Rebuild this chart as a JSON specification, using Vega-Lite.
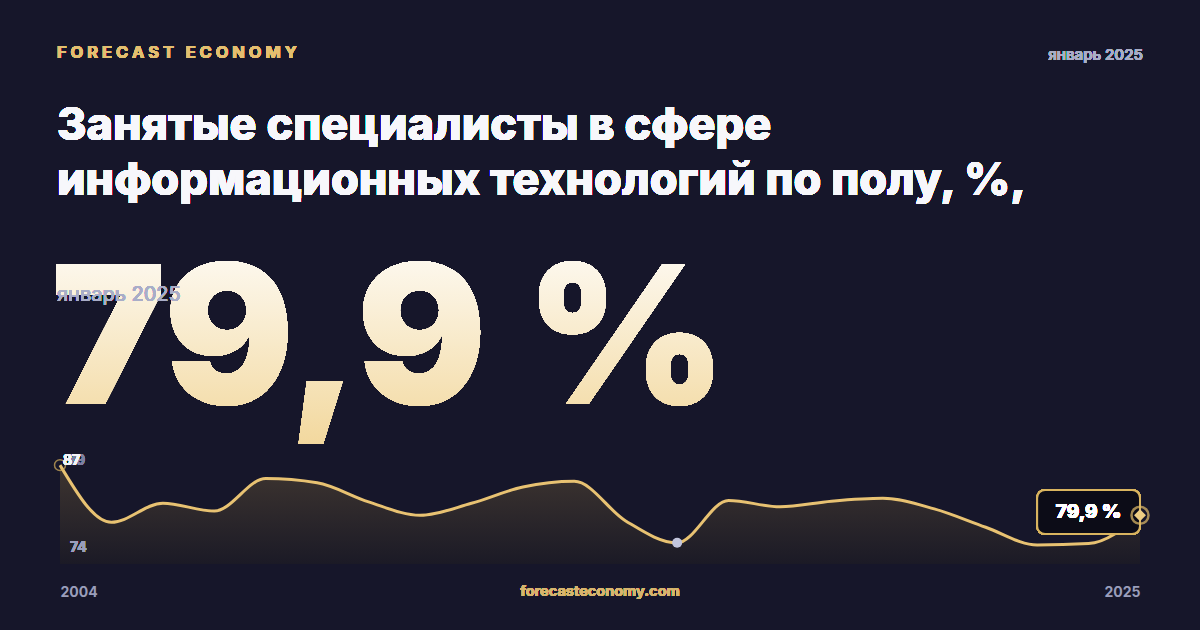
{
  "$schema": "https://vega.github.io/schema/vega-lite/v6.json",
  "width": 1080,
  "height": 113,
  "autosize": {"type": "none"},
  "padding": {"left": 60, "top": 451, "right": 60, "bottom": 66},
  "background": "#16162a",
  "config": {"view": {"stroke": null}, "font": "Inter", "text": {"font": "Inter"}},
  "data": {
    "values": [
      {"year": 2004, "value": 87.0},
      {"year": 2005, "value": 78.9},
      {"year": 2006, "value": 81.6},
      {"year": 2007, "value": 80.5},
      {"year": 2008, "value": 85.1},
      {"year": 2009, "value": 84.5},
      {"year": 2010, "value": 81.8},
      {"year": 2011, "value": 79.9},
      {"year": 2012, "value": 81.6},
      {"year": 2013, "value": 83.9},
      {"year": 2014, "value": 84.7},
      {"year": 2015, "value": 79.1},
      {"year": 2016, "value": 76.0},
      {"year": 2017, "value": 82.0},
      {"year": 2018, "value": 81.1},
      {"year": 2019, "value": 81.9},
      {"year": 2020, "value": 82.3},
      {"year": 2021, "value": 80.8},
      {"year": 2022, "value": 78.2},
      {"year": 2023, "value": 75.7},
      {"year": 2024, "value": 75.9},
      {"year": 2025, "value": 79.9}
    ]
  },
  "encoding": {
    "x": {
      "field": "year",
      "type": "quantitative",
      "scale": {"domain": [2004, 2025], "nice": false, "zero": false},
      "axis": {
        "values": [2004, 2025],
        "format": "d",
        "labelFlush": true,
        "domain": false,
        "ticks": false,
        "grid": false,
        "labelPadding": 21,
        "labelFontSize": 14,
        "labelFontWeight": 700,
        "labelColor": "#9a9ebb",
        "labelFont": "Inter",
        "title": null
      }
    },
    "y": {
      "field": "value",
      "type": "quantitative",
      "scale": {"domain": [73, 89], "nice": false, "zero": false},
      "axis": null
    }
  },
  "layer": [
    {
      "mark": {
        "type": "area",
        "interpolate": "monotone",
        "color": {
          "gradient": "linear",
          "x1": 0, "y1": 0, "x2": 0, "y2": 1,
          "stops": [
            {"offset": 0, "color": "#3e3530"},
            {"offset": 1, "color": "#1b1a26"}
          ]
        }
      },
      "encoding": {"y2": {"datum": 73}}
    },
    {
      "mark": {"type": "line", "interpolate": "monotone", "color": "#e8c272", "strokeWidth": 3}
    },
    {
      "transform": [{"filter": "datum.year == 2004"}],
      "mark": {"type": "point", "shape": "circle", "size": 120, "filled": false, "stroke": "#d9b35e", "strokeWidth": 1.5}
    },
    {
      "transform": [{"filter": "datum.year == 2016"}],
      "mark": {"type": "point", "shape": "circle", "size": 100, "filled": true, "color": "#c2c5dd", "opacity": 1}
    },
    {
      "mark": {"type": "rect", "cornerRadius": 8, "fill": "#0c0c17", "stroke": "#d9b45f", "strokeWidth": 2, "clip": false},
      "encoding": {
        "x": {"datum": 2023.0},
        "x2": {"datum": 2025.0},
        "y": {"datum": 83.48},
        "y2": {"datum": 77.24}
      }
    },
    {
      "mark": {"type": "text", "text": "79,9 %", "fontSize": 19, "fontWeight": 800, "color": "#ffffff", "align": "center", "baseline": "middle", "clip": false},
      "encoding": {"x": {"datum": 2024.0}, "y": {"datum": 80.36}}
    },
    {
      "transform": [{"filter": "datum.year == 2025"}],
      "mark": {"type": "point", "shape": "circle", "size": 290, "filled": false, "stroke": "#e2bd6a", "strokeWidth": 2.5, "clip": false}
    },
    {
      "transform": [{"filter": "datum.year == 2025"}],
      "mark": {"type": "point", "shape": "diamond", "size": 140, "filled": true, "color": "#edcd84", "opacity": 1, "clip": false}
    },
    {
      "mark": {"type": "text", "text": "79", "fontSize": 14, "fontWeight": 700, "color": "#7d80a0", "align": "left", "baseline": "middle", "dx": 8, "clip": false},
      "encoding": {"x": {"datum": 2004}, "y": {"datum": 87.58}}
    },
    {
      "mark": {"type": "text", "text": "87", "fontSize": 14, "fontWeight": 700, "color": "#f4f4f8", "align": "left", "baseline": "middle", "dx": 3, "clip": false},
      "encoding": {"x": {"datum": 2004}, "y": {"datum": 87.58}}
    },
    {
      "mark": {"type": "text", "text": "74", "fontSize": 14, "fontWeight": 700, "color": "#9a9ebb", "align": "left", "baseline": "middle", "dx": 10, "clip": false},
      "encoding": {"x": {"datum": 2004}, "y": {"datum": 75.2}}
    },
    {
      "mark": {"type": "text", "text": "F\u00a0O\u00a0R\u00a0E\u00a0C\u00a0A\u00a0S\u00a0T\u00a0\u00a0\u00a0E\u00a0C\u00a0O\u00a0N\u00a0O\u00a0M\u00a0Y", "fontSize": 16.5, "fontWeight": 700, "color": "#e3bf70", "align": "left", "baseline": "middle", "dx": -3, "clip": false},
      "encoding": {"x": {"datum": 2004}, "y": {"datum": 145.37}}
    },
    {
      "mark": {"type": "text", "text": "январь 2025", "fontSize": 15, "fontWeight": 600, "color": "#a9adc6", "align": "right", "baseline": "middle", "dx": 3, "clip": false},
      "encoding": {"x": {"datum": 2025}, "y": {"datum": 145.09}}
    },
    {
      "mark": {"type": "text", "text": ["Занятые специалисты в сфере", "информационных технологий по полу, %,"], "lineHeight": 55, "fontSize": 45, "fontWeight": 800, "color": "#f7f7fb", "align": "left", "baseline": "alphabetic", "dx": -3, "clip": false},
      "encoding": {"x": {"datum": 2004}, "y": {"datum": 133.05}}
    },
    {
      "mark": {
        "type": "text", "text": "79,9 %", "fontSize": 193, "fontWeight": 900, "align": "left", "baseline": "alphabetic", "dx": -9, "clip": false,
        "color": {
          "gradient": "linear",
          "x1": 0, "y1": 0, "x2": 0, "y2": 1,
          "stops": [
            {"offset": 0, "color": "#ffffff"},
            {"offset": 1, "color": "#f2d79b"}
          ]
        }
      },
      "encoding": {"x": {"datum": 2004}, "y": {"datum": 95.66}}
    },
    {
      "mark": {"type": "text", "text": "январь 2025", "fontSize": 20, "fontWeight": 400, "color": "#a9adc8", "align": "left", "baseline": "middle", "dx": -3, "clip": false},
      "encoding": {"x": {"datum": 2004}, "y": {"datum": 111.1}}
    },
    {
      "mark": {"type": "text", "text": "forecasteconomy.com", "fontSize": 14.5, "fontWeight": 700, "color": "#d7b56e", "align": "center", "baseline": "middle", "clip": false},
      "encoding": {"x": {"datum": 2014.5}, "y": {"datum": 69.03}}
    }
  ]
}
